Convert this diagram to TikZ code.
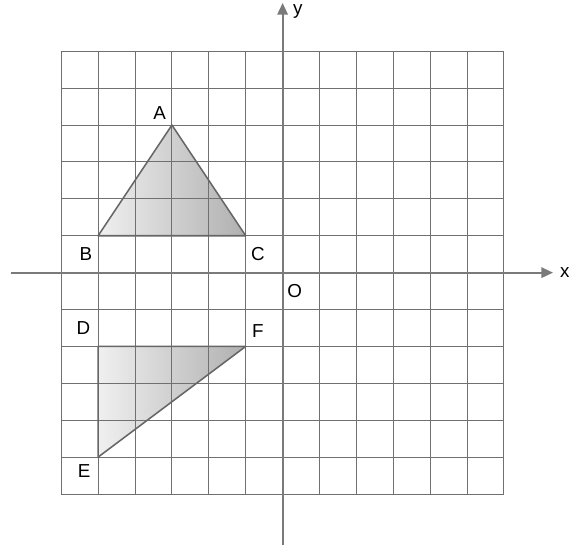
\documentclass[tikz,border=0pt]{standalone}
\usepackage{fontspec}
\setmainfont{Liberation Sans}
\usetikzlibrary{arrows.meta}
\definecolor{gridc}{HTML}{707070}
\definecolor{axisc}{HTML}{7A7A7A}
\definecolor{edgec}{HTML}{666666}
\tikzset{
  gridline/.style={draw=gridc, line width=0.75pt},
  axisline/.style={draw=axisc, line width=1.5pt, -{Triangle[length=9pt,width=8pt]}},
  trifill/.style={left color=gray!12, right color=gray!62},
  triedge/.style={draw=edgec, line width=1.2pt, line join=round},
  lbl/.style={font=\fontsize{14.5}{14.5}\selectfont, inner sep=0pt}
}
\begin{document}
\begin{tikzpicture}
\useasboundingbox[fill=white] (-7.66,-7.49) rectangle (7.98,7.39);
\coordinate (A) at (-3,4);
\coordinate (B) at (-5,1);
\coordinate (C) at (-1,1);
\coordinate (D) at (-5,-2);
\coordinate (E) at (-5,-5);
\coordinate (F) at (-1,-2);
\path[trifill] (A) -- (B) -- (C) -- cycle;
\path[trifill] (D) -- (F) -- (E) -- cycle;
\draw[gridline] (-6,-6) grid (6,6);
\draw[triedge] (A) -- (B) -- (C) -- cycle;
\draw[triedge] (D) -- (F) -- (E) -- cycle;
\coordinate (xs) at (-7.37,0);
\coordinate (xe) at (7.33,0);
\coordinate (ys) at (0,-7.38);
\coordinate (ye) at (0,7.31);
\draw[axisline] (xs) -- (xe);
\draw[axisline] (ys) -- (ye);
\node[lbl] (lA) at (-3.33,4.33) {A};
\node[lbl] (lB) at (-5.33,0.5) {B};
\node[lbl] (lC) at (-0.67,0.5) {C};
\node[lbl] (lO) at (0.33,-0.5) {O};
\node[lbl] (lD) at (-5.4,-1.5) {D};
\node[lbl] (lF) at (-0.67,-1.57) {F};
\node[lbl] (lE) at (-5.38,-5.37) {E};
\node[lbl] (lx) at (7.65,0) {x};
\node[lbl] (ly) at (0.41,7.07) {y};
\end{tikzpicture}
\end{document}
